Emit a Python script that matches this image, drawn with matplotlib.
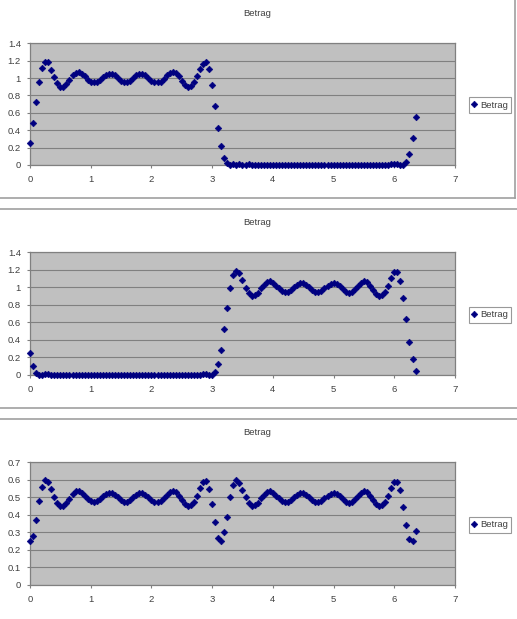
import matplotlib
matplotlib.use("Agg")
import matplotlib.pyplot as plt
from matplotlib.lines import Line2D
import numpy as np

plt.rcParams['font.family'] = ['Liberation Sans', 'DejaVu Sans']

# sample positions (step 0.05, 128 samples)
x = np.arange(128) * 0.05

betrag1 = [
    0.25, 0.48, 0.72, 0.96, 1.12, 1.19, 1.18, 1.09, 1.01, 0.94,
    0.90, 0.90, 0.93, 0.98, 1.03, 1.06, 1.07, 1.05, 1.02, 0.98,
    0.96, 0.95, 0.96, 0.98, 1.01, 1.04, 1.05, 1.05, 1.03, 1.00,
    0.97, 0.95, 0.95, 0.97, 1.00, 1.03, 1.05, 1.05, 1.03, 1.00,
    0.97, 0.95, 0.95, 0.96, 0.99, 1.03, 1.06, 1.07, 1.06, 1.02,
    0.97, 0.92, 0.90, 0.91, 0.95, 1.02, 1.10, 1.16, 1.18, 1.10,
    0.92, 0.68, 0.43, 0.22, 0.08, 0.02, 0.00, 0.01, 0.00, 0.01,
    0.00, 0.00, 0.01, 0.00, 0.00, 0.00, 0.00, 0.00, 0.00, 0.00,
    0.00, 0.00, 0.00, 0.00, 0.00, 0.00, 0.00, 0.00, 0.00, 0.00,
    0.00, 0.00, 0.00, 0.00, 0.00, 0.00, 0.00, 0.00, 0.00, 0.00,
    0.00, 0.00, 0.00, 0.00, 0.00, 0.00, 0.00, 0.00, 0.00, 0.00,
    0.00, 0.00, 0.00, 0.00, 0.00, 0.00, 0.00, 0.00, 0.005, 0.01,
    0.01, 0.01, 0.005, 0.00, 0.04, 0.13, 0.31, 0.55,
]

betrag2 = [
    0.25, 0.10, 0.02, 0.00, 0.00, 0.01, 0.01, 0.00, 0.00, 0.00,
    0.00, 0.00, 0.00, 0.00, 0.00, 0.00, 0.00, 0.00, 0.00, 0.00,
    0.00, 0.00, 0.00, 0.00, 0.00, 0.00, 0.00, 0.00, 0.00, 0.00,
    0.00, 0.00, 0.00, 0.00, 0.00, 0.00, 0.00, 0.00, 0.00, 0.00,
    0.00, 0.00, 0.00, 0.00, 0.00, 0.00, 0.00, 0.00, 0.00, 0.00,
    0.00, 0.00, 0.00, 0.00, 0.00, 0.00, 0.005, 0.01, 0.01, 0.005,
    0.00, 0.03, 0.12, 0.29, 0.52, 0.77, 0.99, 1.14, 1.19, 1.16,
    1.08, 0.99, 0.93, 0.90, 0.91, 0.94, 0.99, 1.03, 1.06, 1.07,
    1.05, 1.02, 0.99, 0.96, 0.95, 0.95, 0.97, 1.00, 1.03, 1.05,
    1.05, 1.03, 1.00, 0.97, 0.95, 0.95, 0.96, 0.99, 1.02, 1.04,
    1.05, 1.04, 1.01, 0.98, 0.95, 0.94, 0.95, 0.98, 1.02, 1.05,
    1.07, 1.06, 1.02, 0.97, 0.92, 0.90, 0.91, 0.95, 1.02, 1.11,
    1.18, 1.17, 1.07, 0.88, 0.64, 0.38, 0.18, 0.05,
]

betrag3 = [
    0.25, 0.28, 0.37, 0.48, 0.56, 0.60, 0.59, 0.55, 0.50, 0.47,
    0.45, 0.45, 0.47, 0.49, 0.52, 0.535, 0.535, 0.525, 0.51, 0.49,
    0.48, 0.475, 0.48, 0.49, 0.505, 0.52, 0.525, 0.525, 0.515, 0.50,
    0.485, 0.475, 0.475, 0.485, 0.50, 0.515, 0.525, 0.525, 0.515, 0.50,
    0.485, 0.475, 0.475, 0.48, 0.495, 0.515, 0.53, 0.535, 0.53, 0.51,
    0.485, 0.46, 0.45, 0.455, 0.475, 0.51, 0.555, 0.59, 0.595, 0.55,
    0.46, 0.36, 0.27, 0.25, 0.30, 0.39, 0.50, 0.57, 0.60, 0.58,
    0.54, 0.50, 0.465, 0.45, 0.455, 0.47, 0.495, 0.515, 0.53, 0.535,
    0.525, 0.51, 0.495, 0.48, 0.475, 0.475, 0.485, 0.50, 0.515, 0.525,
    0.525, 0.515, 0.50, 0.485, 0.475, 0.475, 0.48, 0.495, 0.51, 0.52,
    0.525, 0.52, 0.505, 0.49, 0.475, 0.47, 0.475, 0.49, 0.51, 0.525,
    0.535, 0.53, 0.51, 0.485, 0.46, 0.45, 0.455, 0.475, 0.51, 0.555,
    0.59, 0.59, 0.54, 0.445, 0.34, 0.265, 0.25, 0.31,
]

series = [betrag1, betrag2, betrag3]
ymaxes = [1.4, 1.4, 0.7]
ysteps = [0.2, 0.2, 0.1]
xticks = [0, 1, 2, 3, 4, 5, 6, 7]
title = "Betrag"

W, H = 517, 619
fig = plt.figure(figsize=(W / 100, H / 100), dpi=100)
fig.patch.set_facecolor('white')

tops = [43.3, 252.3, 462.3]
bottoms = [165, 375, 585]
title_y = [14, 222.7, 432.7]
legend_y = [105, 314.7, 524.7]
left, right = 30, 455

grey = '#808080'
txt = '#404040'

for i in range(3):
    ax = fig.add_axes([left / W, 1 - bottoms[i] / H,
                       (right - left) / W, (bottoms[i] - tops[i]) / H])
    ax.set_facecolor('#c0c0c0')
    ax.plot(x, series[i], linestyle='none', marker='D', ms=3.4,
            color='#000080', mec='#000080', mew=0.4, clip_on=False,
            label=title, zorder=3)
    ax.set_xlim(0, 7)
    ax.set_ylim(0, ymaxes[i])
    ax.set_xticks(xticks)
    yt = np.round(np.arange(0, ymaxes[i] + 1e-9, ysteps[i]), 2)
    ax.set_yticks(yt)
    ax.set_yticklabels(['%g' % v for v in yt])
    ax.grid(axis='y', color=grey, linewidth=0.8)
    ax.set_axisbelow(True)
    for s in ax.spines.values():
        s.set_color(grey)
        s.set_linewidth(0.9)
    ax.tick_params(axis='x', length=2.5, width=0.8, color=grey, pad=5,
                   labelsize=6.8, labelcolor=txt)
    ax.tick_params(axis='y', length=2.5, width=0.8, color=grey, pad=4,
                   labelsize=6.8, labelcolor=txt)
    fig.text(256.7 / W, 1 - title_y[i] / H, title, ha='center', va='center',
             fontsize=6.8, color=txt)
    leg = ax.legend(loc='center left', bbox_to_anchor=(468.5 / W, 1 - legend_y[i] / H),
                    bbox_transform=fig.transFigure, fontsize=6.8, frameon=True,
                    fancybox=False, handlelength=0.5, handletextpad=0.35,
                    borderpad=0.35, borderaxespad=0, markerscale=1.0)
    leg.get_frame().set_edgecolor(grey)
    leg.get_frame().set_linewidth(0.8)
    for t in leg.get_texts():
        t.set_color(txt)

# chart object borders
frame = '#a0a0a0'
def hline(py, x0=0, x1=W):
    fig.add_artist(Line2D([x0 / W, x1 / W], [1 - py / H, 1 - py / H],
                          color=frame, lw=1.2, transform=fig.transFigure))

hline(198.3, 0, 514.7)
fig.add_artist(Line2D([514.7 / W, 514.7 / W], [1.0, 1 - 198.3 / H],
                      color=frame, lw=1.2, transform=fig.transFigure))
hline(209.3)
hline(408.3)
hline(419.3)

fig.savefig('out.png', dpi=100)
